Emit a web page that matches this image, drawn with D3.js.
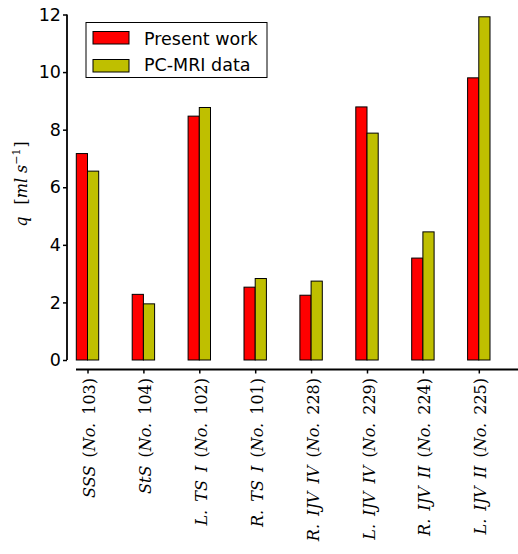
<!DOCTYPE html>
<html>
<head>
<meta charset="utf-8">
<script src="https://cdn.jsdelivr.net/npm/d3@7"></script>
<style>
  body { margin: 0; background: #fff; }
  svg { display: block; }
</style>
</head>
<body>
<svg id="chart" width="518" height="554"></svg>
<script>
// Flow rate per vessel: model result vs PC-MRI measurement (ml/s)
const categories = [
  "SSS (No. 103)", "StS (No. 104)", "L. TS I (No. 102)", "R. TS I (No. 101)",
  "R. IJV IV (No. 228)", "L. IJV IV (No. 229)", "R. IJV II (No. 224)", "L. IJV II (No. 225)"
];
const presentWork = [7.17, 2.28, 8.47, 2.53, 2.25, 8.79, 3.54, 9.80];
const pcMriData   = [6.56, 1.95, 8.77, 2.83, 2.74, 7.88, 4.45, 11.92];
const seriesNames = ["Present work", "PC-MRI data"];
const seriesColors = ["#ff0000", "#bfbf00"];
const yTicks = [0, 2, 4, 6, 8, 10, 12];

const svg = d3.select("#chart");
const sansFont = "'DejaVu Sans', sans-serif";
const serifFont = "'DejaVu Serif', 'Liberation Serif', serif";

const x = d3.scalePoint().domain(categories).range([87.5, 478.8]);
const y = d3.scaleLinear().domain([0, 12]).range([360, 14.5]);
const barW = 11.2;

// bars
const series = [presentWork, pcMriData];
series.forEach((vals, si) => {
  svg.append("g").selectAll("rect")
    .data(categories.map((c, i) => ({ c, v: vals[i] })))
    .join("rect")
    .attr("x", d => x(d.c) + (si === 0 ? -barW : 0))
    .attr("y", d => y(d.v))
    .attr("width", barW)
    .attr("height", d => y(0) - y(d.v))
    .attr("fill", seriesColors[si])
    .attr("stroke", "#000")
    .attr("stroke-width", 1);
});

// left axis (spine offset from the plot)
const yAxis = svg.append("g")
  .attr("transform", "translate(67,0)")
  .call(d3.axisLeft(y).tickValues(yTicks).tickSize(4).tickPadding(2).tickFormat(d3.format("d")));
yAxis.select(".domain").remove();
yAxis.selectAll(".tick line").attr("stroke", "#000").attr("stroke-width", 1.5);
yAxis.selectAll(".tick text")
  .attr("font-family", sansFont).attr("font-size", 17.5).attr("fill", "#000");
svg.append("line")
  .attr("x1", 67).attr("x2", 67).attr("y1", y(12)).attr("y2", y(0))
  .attr("stroke", "#000").attr("stroke-width", 1.8);

// bottom axis
const xAxis = svg.append("g")
  .attr("transform", "translate(0,369.5)")
  .call(d3.axisBottom(x).tickSize(4).tickFormat(""));
xAxis.select(".domain").remove();
xAxis.selectAll(".tick line").attr("stroke", "#000").attr("stroke-width", 1.5);
svg.append("line")
  .attr("x1", 76).attr("x2", 518).attr("y1", 369.5).attr("y2", 369.5)
  .attr("stroke", "#000").attr("stroke-width", 1.8);

// category labels, math style: letters italic, digits and brackets upright
function mathRuns(s) {
  return s.match(/[A-Za-z.]+|[^A-Za-z.]+/g).map(t => ({ t, it: /[A-Za-z]/.test(t) }));
}
categories.forEach(c => {
  const t = svg.append("text")
    .attr("transform", `translate(${x(c) + 7.5},378) rotate(-90)`)
    .attr("text-anchor", "end")
    .attr("font-family", serifFont)
    .attr("font-size", 16)
    .attr("word-spacing", 3)
    .attr("fill", "#000");
  mathRuns(c).forEach(r => {
    t.append("tspan").attr("font-style", r.it ? "italic" : "normal").text(r.t);
  });
});

// y-axis title: q [ml s^-1]
const yl = svg.append("text")
  .attr("transform", "translate(27,184) rotate(-90)")
  .attr("text-anchor", "middle")
  .attr("font-family", serifFont)
  .attr("font-size", 16)
  .attr("fill", "#000");
yl.append("tspan").attr("font-style", "italic").text("q");
yl.append("tspan").attr("dx", 12).text("[");
yl.append("tspan").attr("font-style", "italic").text("ml");
yl.append("tspan").attr("font-style", "italic").attr("dx", 5).text("s");
yl.append("tspan").attr("font-size", 11).attr("dy", -7).text("\u22121");
yl.append("tspan").attr("dy", 7).attr("dx", 1).text("]");

// legend
const lg = svg.append("g");
lg.append("rect")
  .attr("x", 86).attr("y", 22.5).attr("width", 181).attr("height", 55)
  .attr("fill", "#fff").attr("stroke", "#000").attr("stroke-width", 1);
seriesNames.forEach((name, i) => {
  lg.append("rect")
    .attr("x", 93).attr("y", 31.5 + i * 28).attr("width", 36).attr("height", 12.5)
    .attr("fill", seriesColors[i]).attr("stroke", "#000").attr("stroke-width", 1);
  lg.append("text")
    .attr("x", 144).attr("y", 45 + i * 26)
    .attr("font-family", sansFont).attr("font-size", 17.5).attr("fill", "#000")
    .text(name);
});
</script>
</body>
</html>
